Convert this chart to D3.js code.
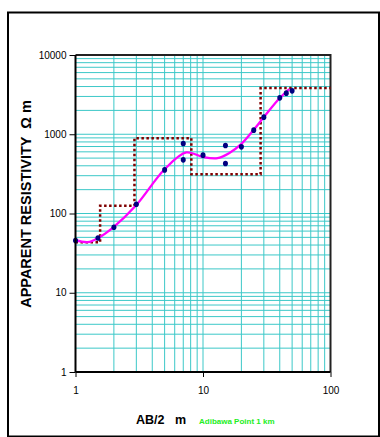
<!DOCTYPE html>
<html>
<head>
<meta charset="utf-8">
<script src="https://cdn.jsdelivr.net/npm/d3@7"></script>
<style>
  body { margin: 0; background: #fff; }
  svg { display: block; font-family: "Liberation Sans", Arial, sans-serif; }
</style>
</head>
<body>
<div id="chart"></div>
<script>
// field measurements (AB/2 in m, apparent resistivity in ohm m)
const spacing = [1, 1.5, 2, 3, 5, 7, 7, 10, 15, 15, 20, 25, 30, 40, 45, 50];
const resistivity = [45.5, 49, 67, 131, 355, 763, 475, 545, 720, 427, 693, 1127, 1644, 2880, 3300, 3530];

// fitted curve
const curveSpacing = [1, 1.25, 1.5, 2, 3, 5, 7.4, 10, 13, 16, 20, 25, 30, 40, 47.5];
const curveRes = [46, 43.5, 49, 68, 128, 362, 590, 515, 499, 577, 757, 1140, 1644, 2860, 3710];

// layered model (step)
const layerTop = [1, 1.56, 2.9, 8.1, 28.3, 100];
const layerRes = [43.4, 125, 893, 313, 3820, 3820];

const xTicks = [1, 10, 100];
const yTicks = [1, 10, 100, 1000, 10000];

const W = 380, H = 437;
const margin = { top: 55, right: 49.5, bottom: 65, left: 75.5 };

const svg = d3.select("#chart").append("svg")
  .attr("width", W)
  .attr("height", H);

// outer frame
svg.append("rect")
  .attr("x", 8).attr("y", 12.5)
  .attr("width", 371).attr("height", 424)
  .attr("fill", "none")
  .attr("stroke", "#000")
  .attr("stroke-width", 2);

const x = d3.scaleLog().domain([1, 100]).range([margin.left, W - margin.right]);
const y = d3.scaleLog().domain([1, 10000]).range([H - margin.bottom, margin.top]);

// grid
const xGrid = d3.range(1, 3).flatMap((e) => d3.range(1, 10).map((m) => m * Math.pow(10, e - 1))).filter((v) => v > 1);
const yGrid = d3.range(0, 4).flatMap((e) => d3.range(1, 10).map((m) => m * Math.pow(10, e))).filter((v) => v > 1);

const grid = svg.append("g").attr("stroke", "#3cc8c8").attr("stroke-width", 1);
grid.selectAll(".vx").data(xGrid).enter().append("line")
  .attr("x1", (d) => x(d)).attr("x2", (d) => x(d))
  .attr("y1", y(1)).attr("y2", y(10000));
grid.selectAll(".hy").data(yGrid).enter().append("line")
  .attr("y1", (d) => y(d)).attr("y2", (d) => y(d))
  .attr("x1", x(1)).attr("x2", x(100));

// plot border (top/right)
svg.append("path")
  .attr("d", `M${x(1)},${y(10000)}H${x(100)}V${y(1)}`)
  .attr("fill", "none")
  .attr("stroke", "#222")
  .attr("stroke-width", 2);

// layered model
const stepLine = d3.line()
  .x((d, i) => x(layerTop[i]))
  .y((d) => y(d))
  .curve(d3.curveStepAfter);

svg.append("path")
  .datum(layerRes)
  .attr("d", stepLine)
  .attr("fill", "none")
  .attr("stroke", "#800000")
  .attr("stroke-width", 2.5)
  .attr("stroke-dasharray", "2.5,2.5");

// fitted curve
const fitLine = d3.line()
  .x((d, i) => x(curveSpacing[i]))
  .y((d) => y(d))
  .curve(d3.curveCatmullRom.alpha(0.5));

svg.append("path")
  .datum(curveRes)
  .attr("d", fitLine)
  .attr("fill", "none")
  .attr("stroke", "#ff00ff")
  .attr("stroke-width", 2.3);

// measured points
svg.selectAll(".pt")
  .data(resistivity)
  .enter()
  .append("ellipse")
  .attr("cx", (d, i) => x(spacing[i]))
  .attr("cy", (d) => y(d))
  .attr("rx", 2.5)
  .attr("ry", 2.8)
  .attr("fill", "#000080");

// axes
const xAxis = d3.axisBottom(x).tickValues(xTicks).tickFormat(d3.format("d")).tickSize(5).tickPadding(10);
const yAxis = d3.axisLeft(y).tickValues(yTicks).tickFormat(d3.format("d")).tickSize(6).tickPadding(3);

const gx = svg.append("g")
  .attr("transform", `translate(0,${y(1)})`)
  .call(xAxis);
const gy = svg.append("g")
  .attr("transform", `translate(${x(1)},0)`)
  .call(yAxis);

[gx, gy].forEach((g) => {
  g.select(".domain").attr("stroke", "#000").attr("stroke-width", 2);
  g.selectAll(".tick line").attr("stroke", "#000");
  g.selectAll(".tick text")
    .attr("font-size", 10)
    .attr("fill", "#000")
    .attr("font-family", "Liberation Sans, Arial, sans-serif");
});
gx.select(".domain").attr("d", `M${x(1)},0H${x(100)}`);
gy.select(".domain").attr("d", `M0,${y(1)}V${y(10000)}`);

// titles
svg.append("text")
  .attr("transform", "translate(30.5,204) rotate(-90)")
  .attr("text-anchor", "middle")
  .attr("font-size", 14.5)
  .attr("font-weight", "bold")
  .style("white-space", "pre")
  .text("APPARENT RESISTIVITY  \u03A9 m");

svg.append("text")
  .attr("x", 136)
  .attr("y", 423.5)
  .attr("font-size", 12.5)
  .attr("font-weight", "bold")
  .style("white-space", "pre")
  .text("AB/2   m");

svg.append("text")
  .attr("x", 199)
  .attr("y", 423.5)
  .attr("font-size", 8)
  .attr("font-weight", "bold")
  .attr("fill", "#22ee22")
  .text("Adibawa Point 1 km");
</script>
</body>
</html>
